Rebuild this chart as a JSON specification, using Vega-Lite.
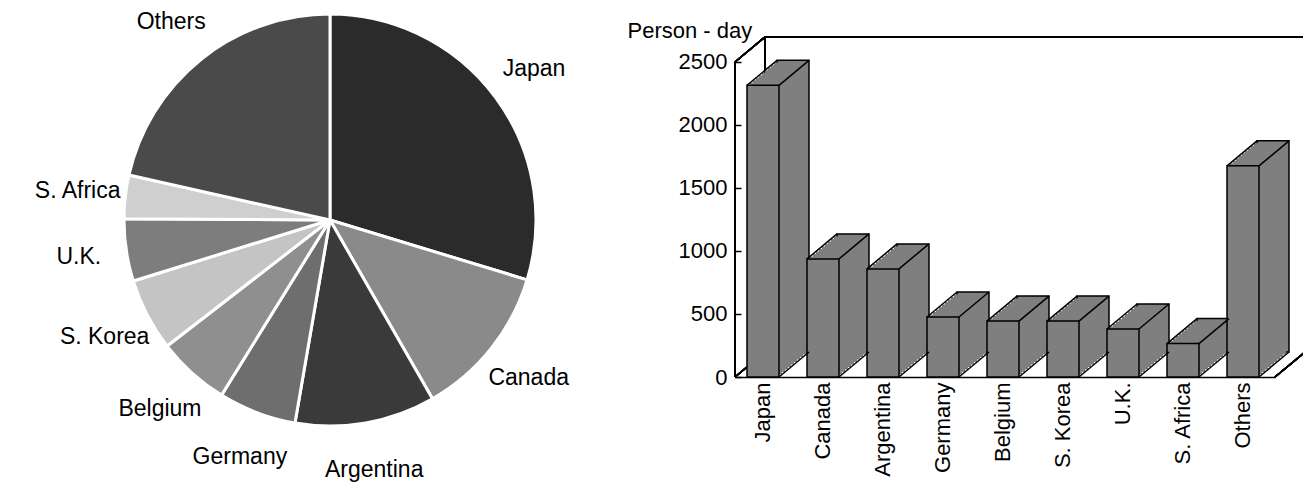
{
  "$schema": "https://vega.github.io/schema/vega-lite/v6.json",
  "padding": 0,
  "spacing": 75,
  "bounds": "flush",
  "background": "white",
  "config": {"view": {"stroke": null}, "font": "Liberation Sans"},
  "datasets": {
    "d": [
      {"country": "Japan", "value": 2315, "idx": 1},
      {"country": "Canada", "value": 937, "idx": 2},
      {"country": "Argentina", "value": 858, "idx": 3},
      {"country": "Germany", "value": 476, "idx": 4},
      {"country": "Belgium", "value": 444, "idx": 5},
      {"country": "S. Korea", "value": 444, "idx": 6},
      {"country": "U.K.", "value": 381, "idx": 7},
      {"country": "S. Africa", "value": 265, "idx": 8},
      {"country": "Others", "value": 1676, "idx": 9}
    ]
  },
  "hconcat": [
    {
      "width": 660,
      "height": 440,
      "data": {"name": "d"},
      "layer": [
        {
          "mark": {"type": "arc", "outerRadius": 206, "stroke": "white", "strokeWidth": 3},
          "encoding": {
            "theta": {"field": "value", "type": "quantitative", "stack": true},
            "order": {"field": "idx", "type": "quantitative"},
            "color": {
              "field": "country", "type": "nominal", "legend": null,
              "scale": {
                "domain": ["Japan", "Canada", "Argentina", "Germany", "Belgium", "S. Korea", "U.K.", "S. Africa", "Others"],
                "range": ["#2b2b2b", "#8a8a8a", "#3a3a3a", "#6e6e6e", "#8f8f8f", "#c4c4c4", "#7d7d7d", "#cfcfcf", "#4a4a4a"]
              }
            }
          }
        },
        {
          "mark": {"type": "text", "radius": 254, "fontSize": 23, "font": "Liberation Sans", "color": "black"},
          "encoding": {
            "theta": {"field": "value", "type": "quantitative", "stack": true},
            "order": {"field": "idx", "type": "quantitative"},
            "text": {"field": "country", "type": "nominal"}
          }
        }
      ]
    },
    {
      "width": 540,
      "height": 377,
      "data": {"name": "d"},
      "layer": [
        {"mark": {"type": "bar", "width": 32, "xOffset": 28, "x2Offset": 28, "yOffset": -25, "y2Offset": -25, "fill": "#7f7f7f", "stroke": "black", "strokeWidth": 1.5},
         "encoding": {
           "x": {"field": "country", "type": "nominal",
             "scale": {"type": "band", "domain": ["Japan", "Canada", "Argentina", "Germany", "Belgium", "S. Korea", "U.K.", "S. Africa", "Others"], "paddingInner": 0, "paddingOuter": 0},
             "axis": {"labelAngle": -90, "ticks": false, "domain": true, "domainColor": "black", "domainWidth": 1.5, "grid": false, "labelPadding": 5, "labelFontSize": 22, "labelColor": "black", "labelFont": "Liberation Sans", "title": null, "labelOffset": -2}},
           "y": {"field": "value", "type": "quantitative",
             "scale": {"domain": [0, 2992], "nice": false},
             "axis": {"values": [0, 500, 1000, 1500, 2000, 2500], "format": "d", "domain": false, "grid": false, "ticks": true, "tickSize": -6, "tickColor": "black", "tickWidth": 1.5, "labelPadding": 14, "labelFontSize": 22, "labelColor": "black", "labelFont": "Liberation Sans", "title": "Person - day", "titleAngle": 0, "titleAlign": "left", "titleBaseline": "alphabetic", "titleX": -108, "titleY": 37, "titleFontSize": 22, "titleFontWeight": "normal", "titleColor": "black", "titleFont": "Liberation Sans"}}}},
        {
          "mark": {"type": "rule", "color": "black", "strokeWidth": 1.5, "xOffset": 0, "yOffset": -25, "y2Offset": -25},
          "encoding": {
            "x": {"datum": "Japan", "type": "nominal"},
            "y": {"datum": 0, "type": "quantitative"},
            "y2": {"datum": 2500}
          }
        },
        {
          "mark": {"type": "rule", "color": "black", "strokeWidth": 1.5, "xOffset": 0, "x2Offset": 60, "yOffset": -25, "y2Offset": -25},
          "encoding": {
            "x": {"datum": "Japan", "type": "nominal"},
            "x2": {"datum": "Others"},
            "y": {"datum": 2500, "type": "quantitative"},
            "y2": {"datum": 2500}
          }
        },
        {
          "mark": {"type": "rule", "color": "black", "strokeWidth": 1.5, "xOffset": -30, "x2Offset": 0, "yOffset": 0, "y2Offset": -25},
          "encoding": {
            "x": {"datum": "Japan", "type": "nominal"},
            "x2": {"datum": "Japan"},
            "y": {"datum": 2500, "type": "quantitative"},
            "y2": {"datum": 2500}
          }
        },
        {
          "mark": {"type": "rule", "color": "black", "strokeWidth": 1.5, "xOffset": -30, "x2Offset": 0, "yOffset": 0, "y2Offset": -25},
          "encoding": {
            "x": {"datum": "Japan", "type": "nominal"},
            "x2": {"datum": "Japan"},
            "y": {"datum": 0, "type": "quantitative"},
            "y2": {"datum": 0}
          }
        },
        {
          "mark": {"type": "rule", "color": "black", "strokeWidth": 1.5, "xOffset": 30, "x2Offset": 60, "yOffset": 0, "y2Offset": -25},
          "encoding": {
            "x": {"datum": "Others", "type": "nominal"},
            "x2": {"datum": "Others"},
            "y": {"datum": 0, "type": "quantitative"},
            "y2": {"datum": 0}
          }
        },
        {
          "mark": {"type": "rule", "color": "black", "strokeWidth": 1.5, "xOffset": -30},
          "encoding": {
            "x": {"datum": "Japan", "type": "nominal"},
            "y": {"datum": 0, "type": "quantitative"},
            "y2": {"datum": 2500}
          }
        },
        {"mark": {"type": "bar", "width": 32, "xOffset": 25, "x2Offset": 25, "yOffset": -22.5, "y2Offset": -22.5, "fill": "#7f7f7f"},
         "encoding": {"x": {"field": "country", "type": "nominal"}, "y": {"field": "value", "type": "quantitative"}}},
        {"mark": {"type": "bar", "width": 32, "xOffset": 22, "x2Offset": 22, "yOffset": -20, "y2Offset": -20, "fill": "#7f7f7f"},
         "encoding": {"x": {"field": "country", "type": "nominal"}, "y": {"field": "value", "type": "quantitative"}}},
        {"mark": {"type": "bar", "width": 32, "xOffset": 19, "x2Offset": 19, "yOffset": -17.5, "y2Offset": -17.5, "fill": "#7f7f7f"},
         "encoding": {"x": {"field": "country", "type": "nominal"}, "y": {"field": "value", "type": "quantitative"}}},
        {"mark": {"type": "bar", "width": 32, "xOffset": 16, "x2Offset": 16, "yOffset": -15, "y2Offset": -15, "fill": "#7f7f7f"},
         "encoding": {"x": {"field": "country", "type": "nominal"}, "y": {"field": "value", "type": "quantitative"}}},
        {"mark": {"type": "bar", "width": 32, "xOffset": 13, "x2Offset": 13, "yOffset": -12.5, "y2Offset": -12.5, "fill": "#7f7f7f"},
         "encoding": {"x": {"field": "country", "type": "nominal"}, "y": {"field": "value", "type": "quantitative"}}},
        {"mark": {"type": "bar", "width": 32, "xOffset": 10, "x2Offset": 10, "yOffset": -10, "y2Offset": -10, "fill": "#7f7f7f"},
         "encoding": {"x": {"field": "country", "type": "nominal"}, "y": {"field": "value", "type": "quantitative"}}},
        {"mark": {"type": "bar", "width": 32, "xOffset": 7, "x2Offset": 7, "yOffset": -7.5, "y2Offset": -7.5, "fill": "#7f7f7f"},
         "encoding": {"x": {"field": "country", "type": "nominal"}, "y": {"field": "value", "type": "quantitative"}}},
        {"mark": {"type": "bar", "width": 32, "xOffset": 4, "x2Offset": 4, "yOffset": -5, "y2Offset": -5, "fill": "#7f7f7f"},
         "encoding": {"x": {"field": "country", "type": "nominal"}, "y": {"field": "value", "type": "quantitative"}}},
        {"mark": {"type": "bar", "width": 32, "xOffset": 1, "x2Offset": 1, "yOffset": -2.5, "y2Offset": -2.5, "fill": "#7f7f7f"},
         "encoding": {"x": {"field": "country", "type": "nominal"}, "y": {"field": "value", "type": "quantitative"}}},
        {"mark": {"type": "bar", "width": 32, "xOffset": -2, "x2Offset": -2, "yOffset": 0, "y2Offset": 0, "fill": "#7f7f7f", "stroke": "black", "strokeWidth": 1.5},
         "encoding": {"x": {"field": "country", "type": "nominal"}, "y": {"field": "value", "type": "quantitative"}}},
        {"mark": {"type": "rule", "color": "black", "strokeWidth": 1.5, "xOffset": -18, "x2Offset": 12, "yOffset": 0, "y2Offset": -25},
         "encoding": {"x": {"field": "country", "type": "nominal"}, "x2": {"field": "country"}, "y": {"field": "value", "type": "quantitative"}, "y2": {"field": "value"}}},
        {"mark": {"type": "rule", "color": "black", "strokeWidth": 1.5, "xOffset": 14, "x2Offset": 44, "yOffset": 0, "y2Offset": -25},
         "encoding": {"x": {"field": "country", "type": "nominal"}, "x2": {"field": "country"}, "y": {"field": "value", "type": "quantitative"}, "y2": {"field": "value"}}},
        {"mark": {"type": "rule", "color": "black", "strokeWidth": 1.5, "xOffset": 14, "x2Offset": 44, "yOffset": 0, "y2Offset": -25},
         "encoding": {"x": {"field": "country", "type": "nominal"}, "x2": {"field": "country"}, "y": {"datum": 0, "type": "quantitative"}, "y2": {"datum": 0}}}
      ]
    }
  ]
}
